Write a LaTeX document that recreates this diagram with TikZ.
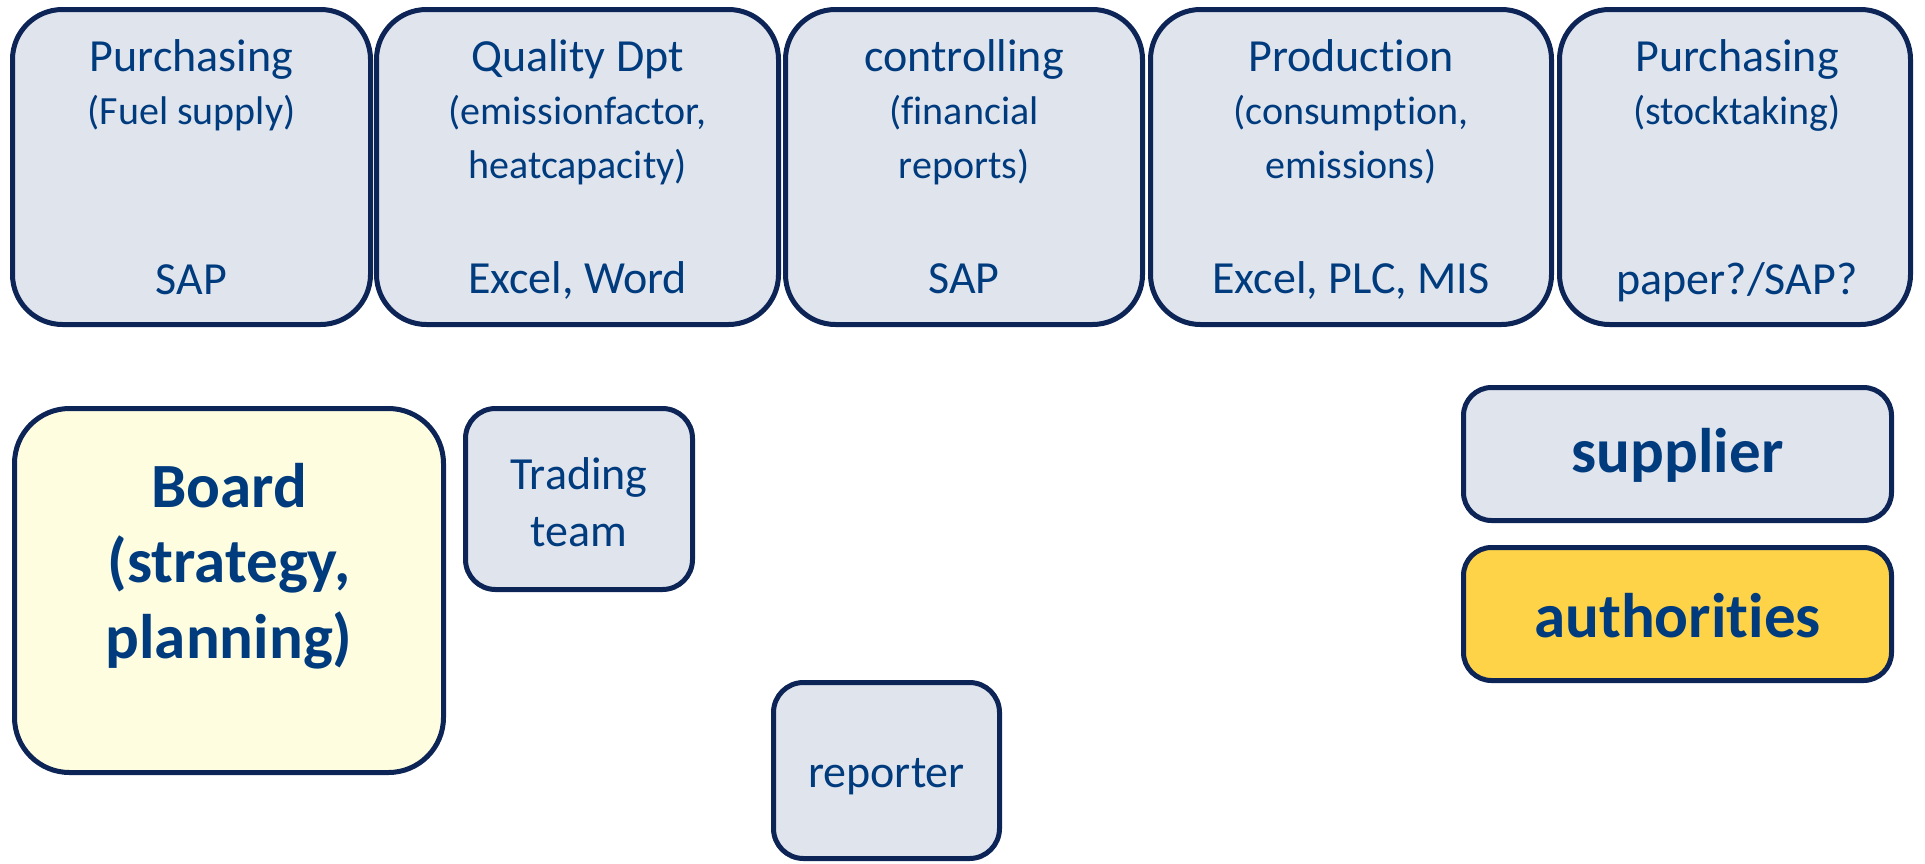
\documentclass[tikz,border=0pt]{standalone}
\usepackage{fontspec}
\setmainfont{Carlito}[Ligatures={NoCommon,NoRequired}, Contextuals=NoAlternate]
\definecolor{boxfill}{HTML}{DFE4ED}
\definecolor{boardfill}{HTML}{FFFDE0}
\definecolor{authfill}{HTML}{FFD348}
\definecolor{edge}{HTML}{0D2456}
\definecolor{ink}{HTML}{003B7E}
\begin{document}
\begin{tikzpicture}[x=1pt,y=-1pt,
  card/.style n args={3}{draw=edge, line width=5pt, fill=boxfill, rounded corners=#3,
    minimum width=#1, minimum height=#2, inner sep=0pt, outer sep=0pt},
  txt/.style={text=ink, font=\fontsize{46}{55}\selectfont, anchor=base, inner sep=0pt},
  sub/.style={text=ink, font=\fontsize{40}{48}\selectfont, anchor=base, inner sep=0pt},
  big/.style={text=ink, font=\bfseries\fontsize{63}{76}\selectfont, anchor=base, inner sep=0pt}]
\useasboundingbox (0,0) rectangle (1925,863);
% top row
\node[card={358pt}{315pt}{50pt}] (b1) at (191.5,167) {};
\node[card={402pt}{315pt}{50pt}] (b2) at (577.5,167) {};
\node[card={357pt}{315pt}{50pt}] (b3) at (964,167) {};
\node[card={401pt}{315pt}{50pt}] (b4) at (1351,167) {};
\node[card={351pt}{315pt}{50pt}] (b5) at (1735,167) {};
\node[txt] (b1t) at (191.5,71) {Purchasing};
\node[sub] (b1s) at (191.5,124) {(Fuel supply)};
\node[txt] (b1b) at (191.5,294) {SAP};
\node[txt] (b2t) at (577.5,71) {Quality Dpt};
\node[sub] (b2s) at (577.5,124) {(emissionfactor,};
\node[sub] (b2u) at (577.5,178) {heatcapacity)};
\node[txt] (b2b) at (577.5,293) {Excel, Word};
\node[txt] (b3t) at (964,71) {controlling};
\node[sub] (b3s) at (964,124) {(financial};
\node[sub] (b3u) at (964,178) {reports)};
\node[txt] (b3b) at (964,293) {SAP};
\node[txt] (b4t) at (1351,71) {Production};
\node[sub] (b4s) at (1351,124) {(consumption,};
\node[sub] (b4u) at (1351,178) {emissions)};
\node[txt] (b4b) at (1351,293) {Excel, PLC, MIS};
\node[txt] (b5t) at (1737,71) {Purchasing};
\node[sub] (b5s) at (1737,124) {(stocktaking)};
\node[txt] (b5b) at (1737,294) {paper?/SAP?};
% board
\node[card={429pt}{364pt}{55pt}, fill=boardfill] (board) at (229,590.5) {};
\node[big] (board1) at (229,507) {Board};
\node[big] (board2) at (229,582) {(strategy,};
\node[big] (board3) at (229,658) {planning)};
% trading team
\node[card={227pt}{181pt}{30pt}] (trade) at (579,499) {};
\node[txt] (trade1) at (579,489) {Trading};
\node[txt] (trade2) at (579,546) {team};
% reporter
\node[card={226pt}{176pt}{30pt}] (rep) at (886.5,770.5) {};
\node[txt] (rep1) at (886.5,787) {reporter};
% supplier / authorities
\node[card={428pt}{133pt}{28pt}] (sup) at (1677.5,454) {};
\node[big] (sup1) at (1677.5,472) {supplier};
\node[card={428pt}{133pt}{28pt}, fill=authfill] (auth) at (1677.5,614) {};
\node[big] (auth1) at (1677.5,637) {authorit\kern0pt ies};
\end{tikzpicture}
\end{document}
